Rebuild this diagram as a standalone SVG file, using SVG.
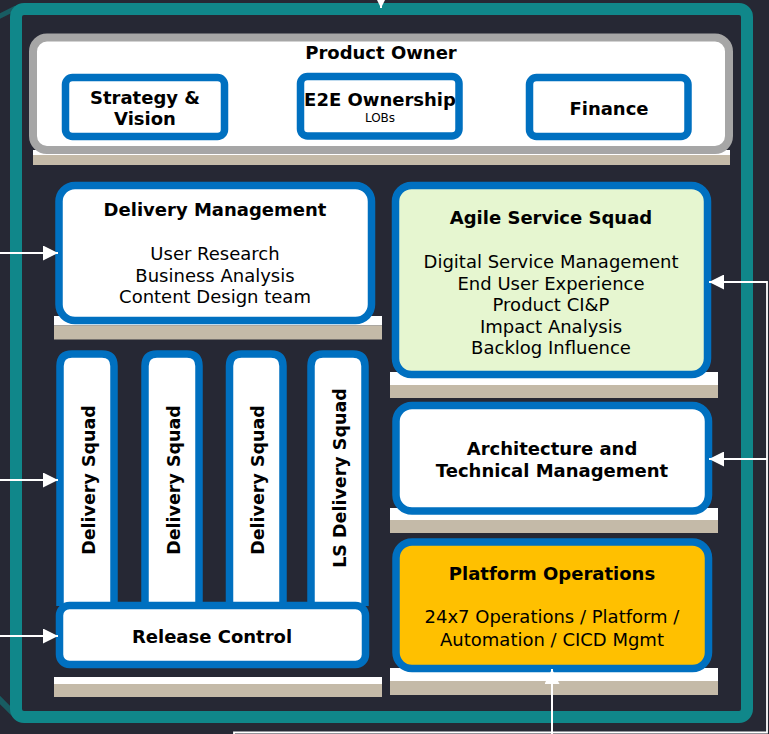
<svg xmlns="http://www.w3.org/2000/svg" width="769" height="734" viewBox="0 0 769 734">
<defs>
<style>
.t{font-family:"DejaVu Sans","Verdana",sans-serif;fill:#000;text-anchor:middle}
.b{font-weight:bold;font-size:18px}
.r{font-size:18px}
.s{font-size:12px}
.box{stroke:#0070c0;stroke-width:7.5;fill:#fff}
.white{fill:#fff}
.beige{fill:#c4baa8}
.con{stroke:#fff;stroke-width:2;fill:none}
</style>
<marker id="ah" markerUnits="userSpaceOnUse" markerWidth="15" markerHeight="15" refX="15" refY="7.5" orient="auto" viewBox="0 0 15 15">
<path d="M0,0 L15,7.5 L0,15 z" fill="#fff"/>
</marker>
</defs>
<rect x="0" y="0" width="769" height="734" fill="#262834"/>
<g id="frame">
<line x1="-2" y1="17" x2="16" y2="8" stroke="#185c62" stroke-width="5"/>
<line x1="-3" y1="697" x2="16" y2="716" stroke="#185c62" stroke-width="6"/>
<rect x="16" y="9" width="731" height="708" rx="8" fill="none" stroke="#10878a" stroke-width="12"/>
</g>
<g id="bases">
<rect class="white" x="33" y="150" width="697" height="5"/>
<rect class="beige" x="33" y="155" width="697" height="10"/>
<rect class="white" x="54" y="316" width="328" height="9.5"/>
<rect class="beige" x="54" y="325.5" width="328" height="14"/>
<rect class="white" x="390" y="372" width="328" height="13"/>
<rect class="beige" x="390" y="385" width="328" height="13"/>
<rect class="white" x="390" y="508" width="328" height="12"/>
<rect class="beige" x="390" y="520" width="328" height="13"/>
<rect class="white" x="390" y="668" width="328" height="13"/>
<rect class="beige" x="390" y="681" width="328" height="14"/>
<rect class="white" x="54" y="677" width="328" height="7"/>
<rect class="beige" x="54" y="684" width="328" height="13"/>
</g>
<g id="product-owner">
<rect x="33" y="37.5" width="696" height="112.5" rx="14" fill="#fff" stroke="#a6a6a6" stroke-width="8"/>
<text class="t b" x="381" y="59">Product Owner</text>
</g>
<g id="strategy-vision">
<rect class="box" x="65.5" y="77.5" width="159" height="59" rx="7"/>
<text class="t b" x="145" y="104">Strategy &amp;</text>
<text class="t b" x="145" y="125">Vision</text>
</g>
<g id="e2e-ownership">
<rect class="box" x="300.5" y="76.5" width="158.5" height="59.5" rx="7"/>
<text class="t b" x="380" y="106">E2E Ownership</text>
<text class="t s" x="380" y="122">LOBs</text>
</g>
<g id="finance">
<rect class="box" x="529.5" y="77.5" width="158.5" height="59" rx="7"/>
<text class="t b" x="609" y="115">Finance</text>
</g>
<g id="delivery-management">
<rect class="box" x="59" y="185.5" width="312.5" height="135" rx="16"/>
<text class="t b" x="215" y="216">Delivery Management</text>
<text class="t r" x="215" y="260">User Research</text>
<text class="t r" x="215" y="281.5">Business Analysis</text>
<text class="t r" x="215" y="303">Content Design team</text>
</g>
<g id="agile-service-squad">
<rect class="box" x="395.5" y="185.5" width="312" height="189" rx="16" style="fill:#e6f6d0"/>
<text class="t b" x="551" y="224">Agile Service Squad</text>
<text class="t r" x="551" y="268">Digital Service Management</text>
<text class="t r" x="551" y="289.5">End User Experience</text>
<text class="t r" x="551" y="311">Product CI&amp;P</text>
<text class="t r" x="551" y="332.5">Impact Analysis</text>
<text class="t r" x="551" y="354">Backlog Influence</text>
</g>
<g id="architecture">
<rect class="box" x="396" y="405.5" width="312.5" height="105.5" rx="16"/>
<text class="t b" x="552" y="455">Architecture and</text>
<text class="t b" x="552" y="476.5">Technical Management</text>
</g>
<g id="platform-operations">
<rect class="box" x="396" y="542" width="312.5" height="126.5" rx="16" style="fill:#ffc000"/>
<text class="t b" x="552" y="580">Platform Operations</text>
<text class="t r" x="552" y="623">24x7 Operations / Platform /</text>
<text class="t r" x="552" y="645.5">Automation / CICD Mgmt</text>
</g>
<g id="delivery-squad-1">
<path class="box" d="M60,606 V366 Q60,354 72,354 H102 Q114,354 114,366 V606"/>
<text class="t b" transform="translate(94.5,480) rotate(-90)" x="0" y="0" style="font-size:17.5px">Delivery Squad</text>
</g>
<g id="delivery-squad-2">
<path class="box" d="M145,606 V366 Q145,354 157,354 H187 Q199,354 199,366 V606"/>
<text class="t b" transform="translate(179.5,480) rotate(-90)" x="0" y="0" style="font-size:17.5px">Delivery Squad</text>
</g>
<g id="delivery-squad-3">
<path class="box" d="M229.5,606 V366 Q229.5,354 241.5,354 H271 Q283,354 283,366 V606"/>
<text class="t b" transform="translate(264,480) rotate(-90)" x="0" y="0" style="font-size:17.5px">Delivery Squad</text>
</g>
<g id="ls-delivery-squad">
<path class="box" d="M311,606 V366 Q311,354 323,354 H353 Q365,354 365,366 V606"/>
<text class="t b" transform="translate(345.5,478) rotate(-90)" x="0" y="0" style="font-size:17.5px">LS Delivery Squad</text>
</g>
<g id="release-control">
<rect class="box" x="59.5" y="605.5" width="306" height="59" rx="10"/>
<text class="t b" x="212" y="643">Release Control</text>
</g>
<g id="connectors">
<path class="con" d="M381,-20 V8" marker-end="url(#ah)"/>
<path class="con" d="M0,253 H58" marker-end="url(#ah)"/>
<path class="con" d="M0,480 H58" marker-end="url(#ah)"/>
<path class="con" d="M0,636 H58" marker-end="url(#ah)"/>
<path class="con" style="stroke-width:1.8" d="M234,740 V732.5 H767 V282 H709" marker-end="url(#ah)"/>
<path class="con" style="stroke-width:1.8" d="M767,459 H709" marker-end="url(#ah)"/>
<path class="con" d="M552,740 V669" marker-end="url(#ah)"/>
</g>
</svg>
